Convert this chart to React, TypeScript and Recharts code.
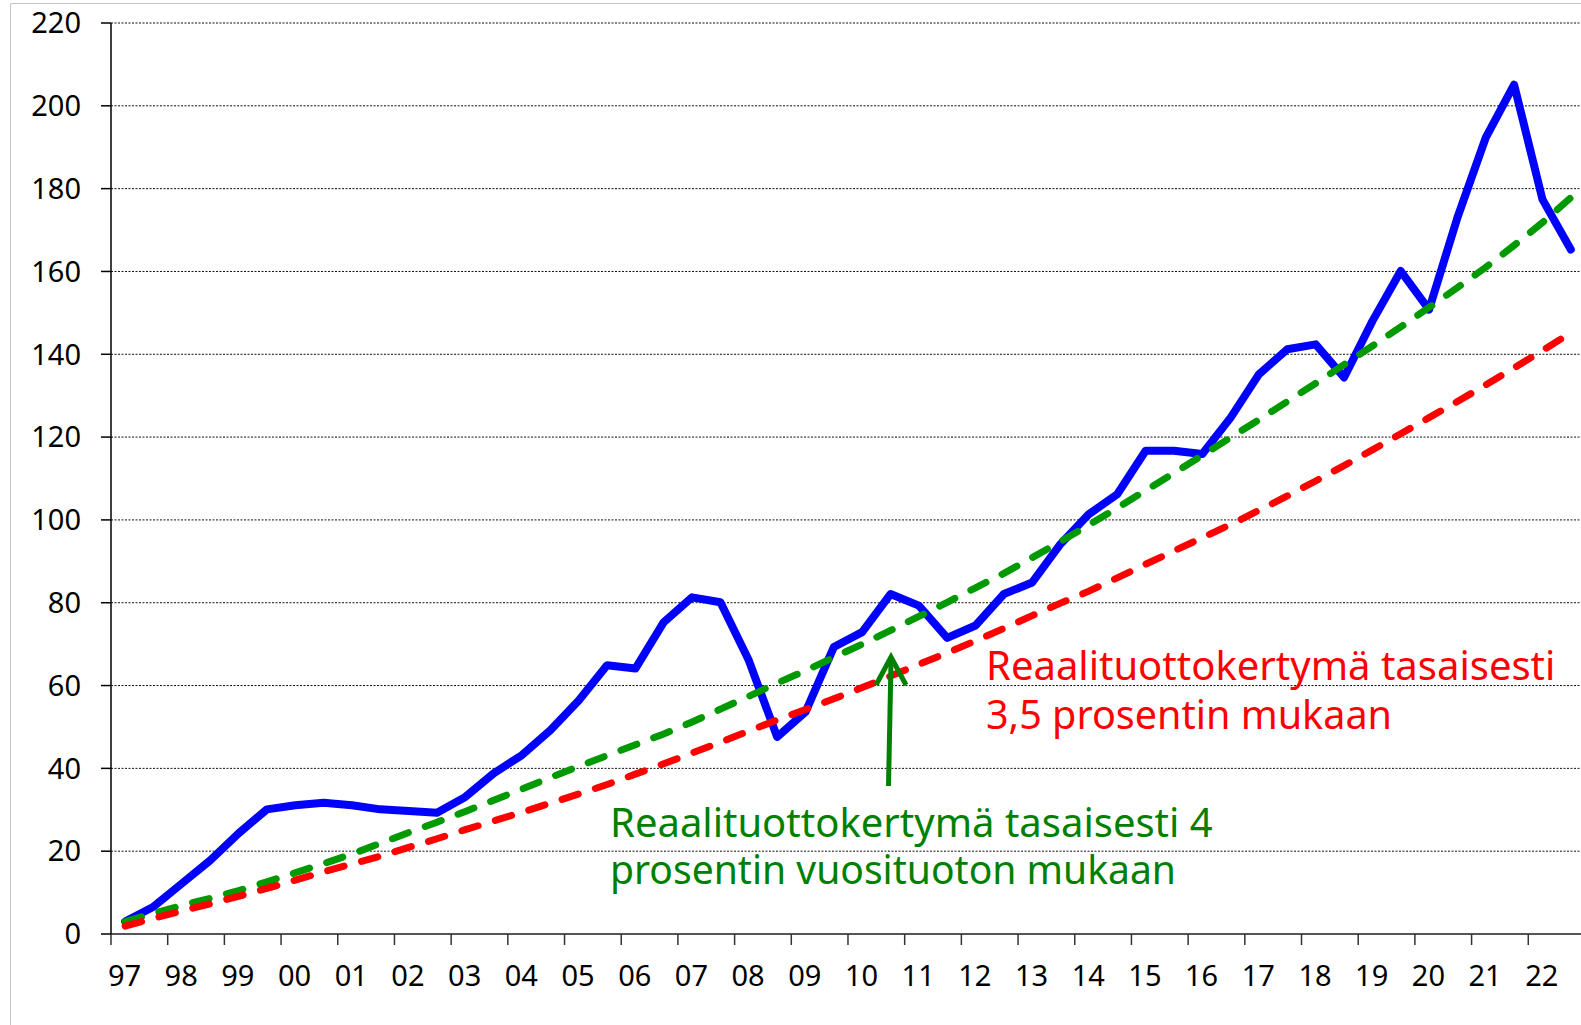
import React from "react";
import {
  LineChart,
  Line,
  XAxis,
  YAxis,
  CartesianGrid,
} from "recharts";

// half-year observation points (mid of each half year)
const periods = [
  1997.25, 1997.75, 1998.25, 1998.75, 1999.25, 1999.75, 2000.25, 2000.75,
  2001.25, 2001.75, 2002.25, 2002.75, 2003.25, 2003.75, 2004.25, 2004.75,
  2005.25, 2005.75, 2006.25, 2006.75, 2007.25, 2007.75, 2008.25, 2008.75,
  2009.25, 2009.75, 2010.25, 2010.75, 2011.25, 2011.75, 2012.25, 2012.75,
  2013.25, 2013.75, 2014.25, 2014.75, 2015.25, 2015.75, 2016.25, 2016.75,
  2017.25, 2017.75, 2018.25, 2018.75, 2019.25, 2019.75, 2020.25, 2020.75,
  2021.25, 2021.75, 2022.25, 2022.75,
];

// toteutunut reaalituottokertymä, %
const actual = [
  3.0, 6.6, 12.2, 17.8, 24.3, 30.1, 31.1, 31.7, 31.1, 30.1, 29.7, 29.3, 33.1,
  38.8, 43.2, 49.2, 56.4, 64.9, 64.1, 75.3, 81.3, 80.1, 66.1, 47.6, 53.6, 69.3,
  72.9, 82.1, 79.3, 71.5, 74.5, 82.1, 84.9, 94.2, 101.4, 106.2, 116.7, 116.7,
  115.9, 124.7, 135.2, 141.2, 142.4, 134.4, 148.0, 160.1, 150.8, 173.0, 192.3,
  205.1, 177.4, 165.3,
];

// 4 % vuosituotto
const even4 = [
  3.0, 5.0, 6.9, 8.6, 10.5, 12.6, 14.8, 17.0, 19.3, 21.9, 24.5, 27.0, 29.6,
  32.3, 35.0, 37.8, 40.5, 43.1, 45.7, 48.3, 51.2, 54.3, 57.4, 60.6, 63.6, 66.8,
  70.0, 73.3, 76.7, 80.1, 83.6, 87.1, 90.9, 94.8, 98.8, 102.9, 107.1, 111.3,
  115.6, 119.9, 124.2, 128.6, 133.0, 137.5, 142.0, 146.6, 151.3, 156.1, 161.0,
  166.3, 171.8, 177.8,
];

// 3,5 % vuosituotto
const even35 = [
  1.9, 3.8, 5.6, 7.3, 9.1, 11.0, 13.0, 15.0, 16.9, 18.8, 20.9, 23.0, 25.2,
  27.3, 29.4, 31.6, 33.8, 36.1, 38.6, 41.1, 43.7, 46.3, 49.0, 51.7, 54.2, 56.8,
  59.5, 62.3, 65.1, 67.9, 70.8, 73.8, 76.9, 79.9, 82.8, 86.0, 89.3, 92.5, 95.7,
  98.9, 102.3, 105.8, 109.4, 113.1, 116.9, 120.8, 124.7, 128.6, 132.6, 136.7,
  140.9, 145.2,
];

const yearTicks = [
  1997, 1998, 1999, 2000, 2001, 2002, 2003, 2004, 2005, 2006, 2007, 2008, 2009,
  2010, 2011, 2012, 2013, 2014, 2015, 2016, 2017, 2018, 2019, 2020, 2021, 2022,
];
const yearLabels = [
  "97", "98", "99", "00", "01", "02", "03", "04", "05", "06", "07", "08", "09",
  "10", "11", "12", "13", "14", "15", "16", "17", "18", "19", "20", "21", "22",
];
const yTicks = [0, 20, 40, 60, 80, 100, 120, 140, 160, 180, 200, 220];

const data = periods.map((t, i) => ({
  t,
  actual: actual[i],
  even4: even4[i],
  even35: even35[i],
}));

const FONT = "'Noto Sans', 'DejaVu Sans', sans-serif";

function YearTick(props: any) {
  const { x, y, index } = props;
  return (
    <text
      x={x + 13.5}
      y={y + 41}
      textAnchor="middle"
      fontSize={29}
      fontFamily={FONT}
      fill="#000"
    >
      {yearLabels[index]}
    </text>
  );
}

export default function App() {
  return (
    <div
      style={{
        position: "absolute",
        left: 0,
        top: 0,
        width: 1581,
        height: 1025,
        background: "#fff",
        overflow: "hidden",
      }}
    >
      <LineChart
        width={1581}
        height={1025}
        data={data}
        margin={{ top: 23, right: 0, left: 0, bottom: 0 }}
      >
        <CartesianGrid
          vertical={false}
          stroke="#111"
          strokeDasharray="2 1.5"
          strokeWidth={1}
        />
        <XAxis
          dataKey="t"
          type="number"
          domain={[1997, 2022.93]}
          ticks={yearTicks}
          interval={0}
          allowDataOverflow
          height={91}
          tickSize={11}
          tickMargin={0}
          axisLine={{ stroke: "#555", strokeWidth: 2 }}
          tickLine={{ stroke: "#333", strokeWidth: 1.5 }}
          tick={<YearTick />}
        />
        <YAxis
          type="number"
          domain={[0, 220]}
          ticks={yTicks}
          interval={0}
          width={111}
          tickSize={10}
          tickMargin={20}
          axisLine={{ stroke: "#000", strokeWidth: 1.5 }}
          tickLine={{ stroke: "#000", strokeWidth: 1.5 }}
          tick={{ fontSize: 29, fill: "#000", fontFamily: FONT }}
        />
        <Line
          type="linear"
          dataKey="actual"
          stroke="#0000ff"
          strokeWidth={8}
          strokeLinecap="round"
          strokeLinejoin="round"
          dot={false}
          isAnimationActive={false}
        />
        <Line
          type="linear"
          dataKey="even4"
          stroke="#009a00"
          strokeWidth={7}
          strokeDasharray="17 18"
          strokeLinecap="round"
          dot={false}
          isAnimationActive={false}
        />
        <Line
          type="linear"
          dataKey="even35"
          stroke="#ff0000"
          strokeWidth={7}
          strokeDasharray="17 18"
          strokeLinecap="round"
          dot={false}
          isAnimationActive={false}
        />
      </LineChart>

      <svg
        width={1581}
        height={1025}
        style={{ position: "absolute", left: 0, top: 0, pointerEvents: "none" }}
      >
        <line x1={10.5} y1={3.5} x2={1581} y2={3.5} stroke="#c6c6c6" strokeWidth={1} />
        <line x1={10.5} y1={3.5} x2={10.5} y2={1025} stroke="#c6c6c6" strokeWidth={1} />

        {/* nuoli */}
        <line x1={888.5} y1={786} x2={891} y2={662} stroke="#008000" strokeWidth={5} />
        <polyline
          points="876,685 891,657 906,685"
          fill="none"
          stroke="#008000"
          strokeWidth={5}
        />

        <g fontFamily={FONT} fontSize={40}>
          <text x={986} y={680} fill="#ff0000">
            Reaalituottokertymä tasaisesti
          </text>
          <text x={986} y={729} fill="#ff0000" textLength={406} lengthAdjust="spacingAndGlyphs">
            3,5 prosentin mukaan
          </text>
          <text x={610} y={837} fill="#008000">
            Reaalituottokertymä tasaisesti 4
          </text>
          <text x={610} y={884} fill="#008000" textLength={566} lengthAdjust="spacingAndGlyphs">
            prosentin vuosituoton mukaan
          </text>
        </g>
      </svg>
    </div>
  );
}
